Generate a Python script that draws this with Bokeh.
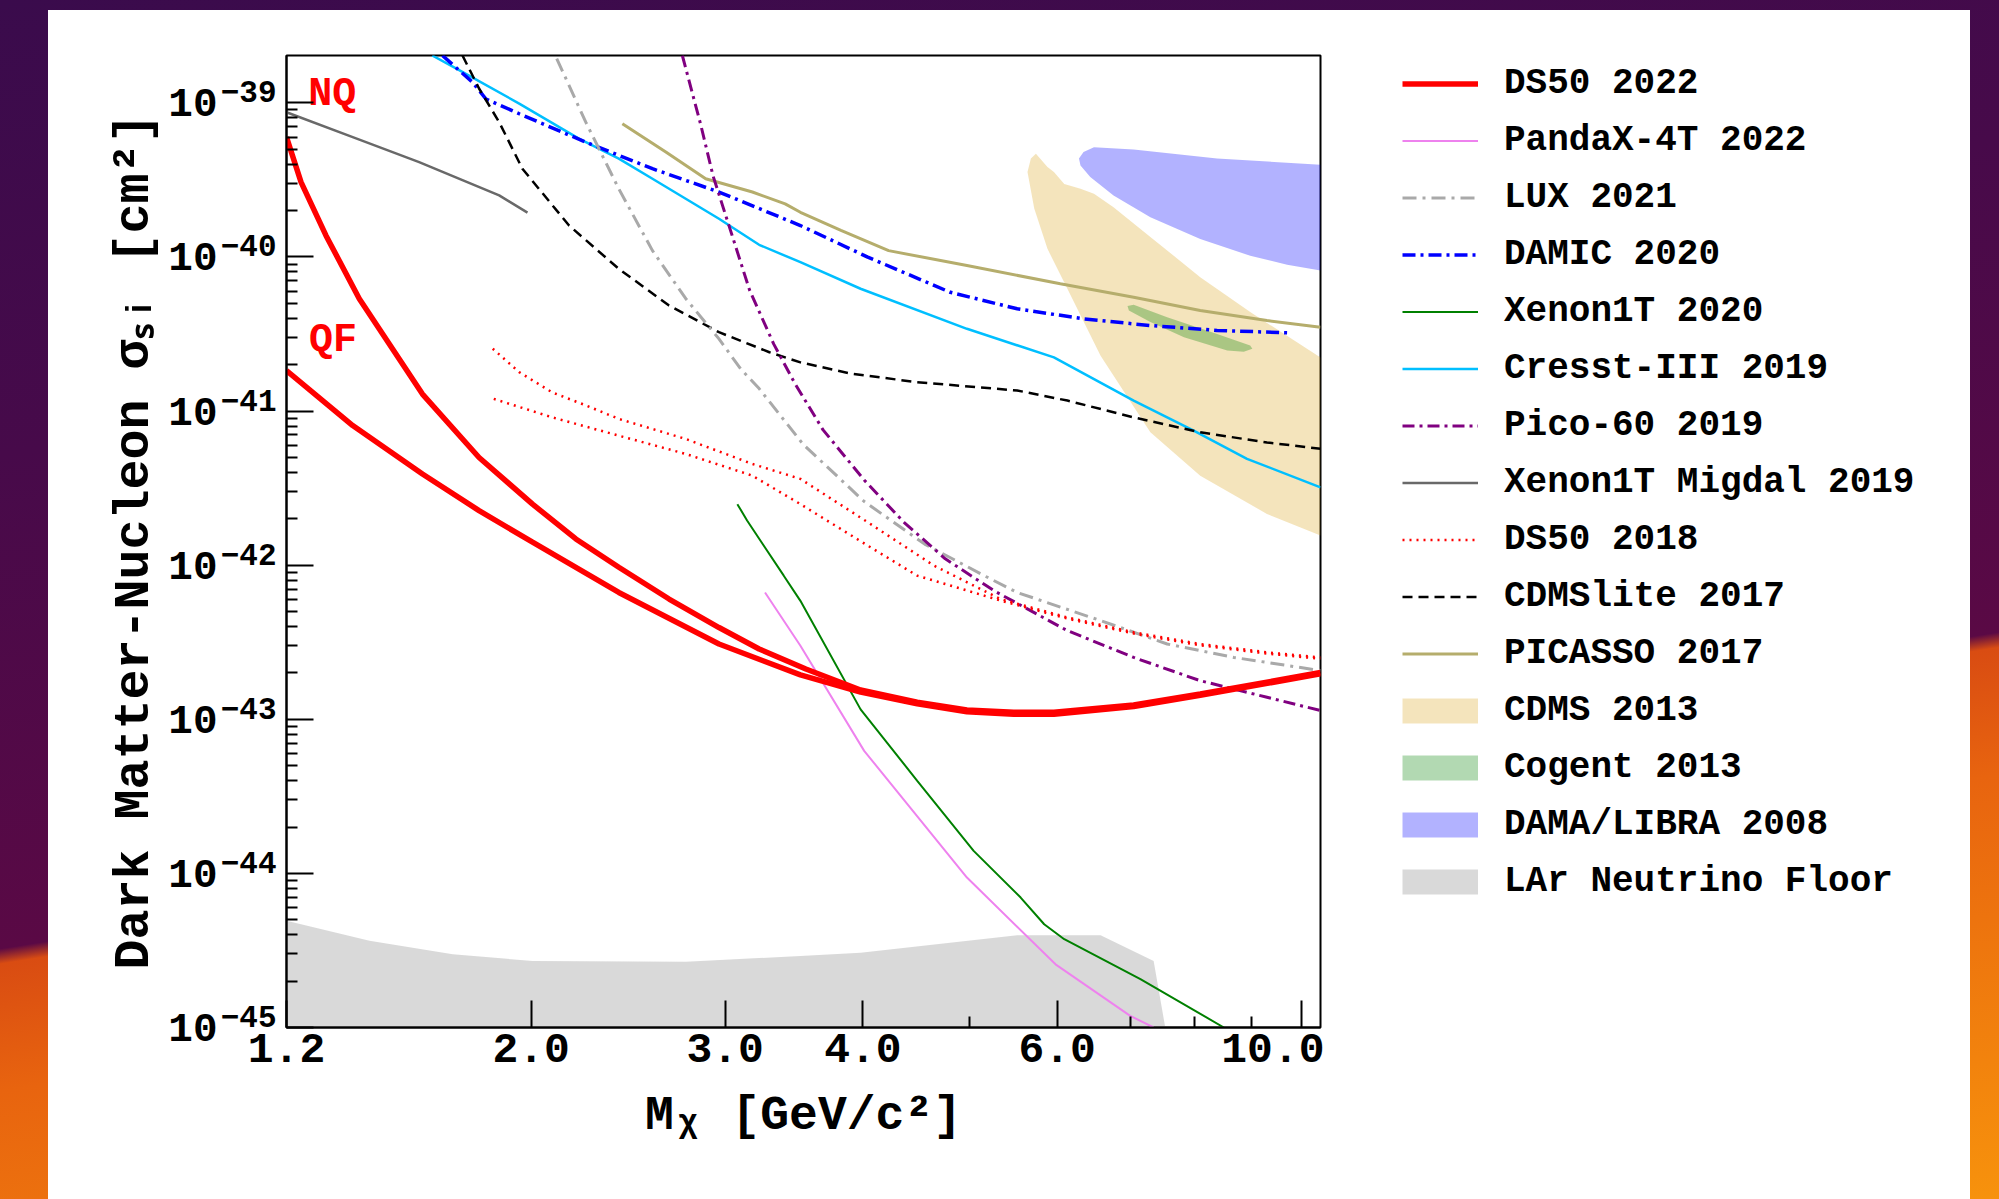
from bokeh.plotting import figure
from bokeh.models import (Range1d, FixedTicker, NumeralTickFormatter, CustomJSTickFormatter,
                          LogAxis, Legend, LegendItem)
from bokeh.layouts import row, column
from bokeh.core.properties import value
from bokeh.embed import file_html
from bokeh.resources import INLINE

FONT = "Liberation Mono"
NAN = float("nan")

# ------------------------------------------------------------------ data
# WIMP mass [GeV/c^2] and spin-independent cross section [cm^2]
ds50_2022_nq_mass = [1.2, 1.237, 1.303, 1.397, 1.594, 1.794, 2.006, 2.196, 2.402, 2.668, 2.961,
                     3.22, 3.55, 3.98, 4.48, 4.97, 5.48, 5.96, 7.04, 8.09, 10.4]
ds50_2022_nq_xsec = [6.0e-40, 3.06e-40, 1.38e-40, 5.36e-41, 1.29e-41, 5.0e-42, 2.49e-42, 1.48e-42,
                     9.7e-43, 6.03e-43, 3.94e-43, 2.86e-43, 2.12e-43, 1.55e-43, 1.29e-43, 1.15e-43,
                     1.11e-43, 1.11e-43, 1.24e-43, 1.46e-43, 2.01e-43]
ds50_2022_qf_mass = [1.2, 1.378, 1.594, 1.794, 2.006, 2.402, 2.961, 3.51, 3.98, 4.48, 4.97, 5.48,
                     5.96, 7.04, 8.09, 10.4]
ds50_2022_qf_xsec = [1.83e-41, 8.05e-42, 3.91e-42, 2.26e-42, 1.41e-42, 6.65e-43, 3.08e-43, 1.94e-43,
                     1.5e-43, 1.26e-43, 1.12e-43, 1.08e-43, 1.08e-43, 1.21e-43, 1.43e-43, 1.97e-43]

pandax_mass = [3.26, 3.51, 4.01, 4.97, 5.98, 6.99, 7.34]
pandax_xsec = [6.65e-43, 3.0e-43, 6.24e-44, 9.4e-45, 2.57e-45, 1.19e-45, 1.0e-45]

lux_mass = [2.11, 2.242, 2.402, 2.577, 2.763, 2.961, 3.10, 3.22, 3.53, 4.01, 4.55, 5.17, 5.52,
            6.57, 7.55, 8.68, 10.4]
lux_xsec = [1.94e-39, 7.5e-40, 2.77e-40, 1.1e-40, 5.36e-41, 2.94e-41, 1.87e-41, 1.4e-41, 6.09e-42,
            2.59e-42, 1.37e-42, 8.45e-43, 6.65e-43, 4.37e-43, 3.08e-43, 2.52e-43, 2.07e-43]

damic_mass = [1.662, 1.77, 1.82, 1.951, 2.242, 2.577, 2.961, 3.51, 4.04, 4.80, 5.52, 6.34, 7.29,
              8.38, 9.73]
damic_xsec = [2.03e-39, 1.36e-39, 1.06e-39, 8.5e-40, 5.56e-40, 3.74e-40, 2.64e-40, 1.6e-40,
              9.98e-41, 5.9e-41, 4.61e-41, 3.97e-41, 3.59e-41, 3.34e-41, 3.22e-41]

xenon1t_mass = [3.077, 3.14, 3.39, 3.51, 3.98, 4.48, 5.04, 5.56, 5.84, 6.09, 7.14, 8.5]
xenon1t_xsec = [2.49e-42, 1.95e-42, 8.55e-43, 5.87e-43, 1.16e-43, 3.99e-44, 1.4e-44, 6.97e-45,
                4.68e-45, 3.74e-45, 2.06e-45, 1.0e-45]

cresst_mass = [1.627, 1.721, 1.951, 2.21, 2.402, 2.577, 2.961, 3.22, 3.51, 3.98, 4.97, 5.96, 7.04,
               7.98, 8.92, 10.4]
cresst_xsec = [2.03e-39, 1.63e-39, 9.9e-40, 5.86e-40, 4.35e-40, 3.22e-40, 1.77e-40, 1.2e-40,
               9.25e-41, 6.22e-41, 3.42e-41, 2.23e-41, 1.17e-41, 7.46e-42, 4.9e-42, 3.2e-42]

pico_mass = [2.743, 2.85, 2.925, 3.025, 3.157, 3.32, 3.47, 3.68, 4.01, 4.36, 4.75, 5.26, 6.13,
             7.04, 8.09, 9.30, 10.4]
pico_xsec = [2.03e-39, 7.24e-40, 3.35e-40, 1.58e-40, 6.07e-41, 2.72e-41, 1.51e-41, 7.55e-42,
             3.57e-42, 1.89e-42, 1.1e-42, 6.82e-43, 3.76e-43, 2.52e-43, 1.78e-43, 1.39e-43, 1.14e-43]

migdal_mass = [1.2, 1.378, 1.583, 1.871, 1.985]
migdal_xsec = [8.7e-40, 6.0e-40, 4.13e-40, 2.51e-40, 1.94e-40]

ds50_2018_a_mass = [1.846, 1.951, 2.091, 2.242, 2.402, 2.763, 3.175, 3.51, 4.04, 4.64, 5.33, 6.13,
                    7.04, 8.09, 9.30, 10.4]
ds50_2018_a_xsec = [2.54e-41, 1.79e-41, 1.32e-41, 1.09e-41, 8.9e-42, 6.59e-42, 4.54e-42, 3.63e-42,
                    1.9e-42, 9.93e-43, 6.03e-43, 4.58e-43, 3.67e-43, 3.08e-43, 2.72e-43, 2.52e-43]
ds50_2018_b_mass = [1.85, 2.091, 2.402, 2.763, 3.175, 3.51, 4.04, 4.48, 5.33, 6.13, 7.04, 8.09,
                    9.30, 10.4]
ds50_2018_b_xsec = [1.2e-41, 9.1e-42, 6.93e-42, 5.27e-42, 3.81e-42, 2.49e-42, 1.34e-42, 8.55e-43,
                    5.9e-43, 4.5e-43, 3.6e-43, 3.02e-43, 2.67e-43, 2.47e-43]

cdmslite_mass = [1.733, 1.794, 1.871, 1.964, 2.165, 2.402, 2.668, 2.961, 3.29, 3.51, 3.90, 4.48,
                 5.52, 6.13, 7.04, 8.09, 9.30, 10.4]
cdmslite_xsec = [2.03e-39, 1.24e-39, 7.5e-40, 3.74e-40, 1.6e-40, 8.38e-41, 4.84e-41, 3.25e-41,
                 2.41e-41, 2.07e-41, 1.75e-41, 1.54e-41, 1.36e-41, 1.17e-41, 9.1e-42, 7.28e-42,
                 6.26e-42, 5.69e-42]

picasso_mass = [2.42, 2.65, 2.88, 3.175, 3.40, 3.51, 3.82, 4.22, 4.97, 6.04, 7.04, 8.09, 9.30, 10.4]
picasso_xsec = [7.33e-40, 4.8e-40, 3.22e-40, 2.64e-40, 2.21e-40, 1.95e-40, 1.49e-40, 1.1e-40,
                8.8e-41, 6.7e-41, 5.48e-41, 4.5e-41, 3.87e-41, 3.5e-41]

cdms2013_mass = [5.74, 5.88, 5.96, 6.09, 6.30, 6.48, 6.75, 7.29, 8.09, 8.98, 10.4, 10.4, 9.30, 8.09,
                 7.29, 6.57, 6.13, 5.88, 5.72, 5.64, 5.68]
cdms2013_xsec = [4.68e-40, 3.83e-40, 3.56e-40, 2.98e-40, 2.77e-40, 2.57e-40, 2.1e-40, 1.35e-40,
                 7.4e-41, 4.39e-41, 2.23e-41, 1.56e-42, 2.15e-42, 3.81e-42, 7.28e-42, 2.29e-41,
                 6.22e-41, 1.13e-40, 2.06e-40, 3.56e-40, 4.35e-40]

cogent_mass = [6.95, 7.04, 7.55, 8.38, 8.98, 9.02, 8.86, 8.56, 7.82, 7.29, 6.97]
cogent_xsec = [4.8e-41, 4.9e-41, 4.06e-41, 3.17e-41, 2.66e-41, 2.54e-41, 2.43e-41, 2.47e-41,
               3.01e-41, 3.78e-41, 4.5e-41]

dama_mass = [6.48, 7.04, 8.38, 10.4, 10.4, 9.70, 8.98, 8.09, 7.29, 6.75, 6.43, 6.30, 6.28, 6.34]
dama_xsec = [5.16e-40, 4.99e-40, 4.35e-40, 3.97e-40, 8.17e-41, 8.89e-41, 1.02e-40, 1.31e-40,
             1.81e-40, 2.51e-40, 3.3e-40, 3.93e-40, 4.35e-40, 4.8e-40]

nufloor_mass = [1.2, 1.427, 1.698, 2.006, 2.763, 3.51, 3.98, 5.52, 6.57, 7.34, 7.52, 1.2]
nufloor_xsec = [4.92e-45, 3.65e-45, 2.99e-45, 2.7e-45, 2.67e-45, 2.91e-45, 3.06e-45, 3.97e-45,
                3.97e-45, 2.7e-45, 1.0e-45, 1.0e-45]

x_major_ticks = [1.2, 2.0, 3.0, 4.0, 6.0, 10.0]
x_minor_ticks = [5.0, 7.0, 8.0, 9.0]
y_exponents = [-45, -44, -43, -42, -41, -40, -39]

legend_labels = ["DS50 2022", "PandaX-4T 2022", "LUX 2021", "DAMIC 2020", "Xenon1T 2020",
                 "Cresst-III 2019", "Pico-60 2019", "Xenon1T Migdal 2019", "DS50 2018",
                 "CDMSlite 2017", "PICASSO 2017", "CDMS 2013", "Cogent 2013", "DAMA/LIBRA 2008",
                 "LAr Neutrino Floor"]

x_title = "M\u1d6a [GeV/c\u00b2]"
y_title = "Dark Matter-Nucleon \u03c3\u209b\u1d62 [cm\u00b2]"

# ------------------------------------------------------------------ styles of each series
LINE_STYLES = {
    "DS50 2022":           dict(line_color="red", line_width=5.5),
    "PandaX-4T 2022":      dict(line_color="violet", line_width=2),
    "LUX 2021":            dict(line_color="darkgray", line_width=3, line_dash="14 6 3 6"),
    "DAMIC 2020":          dict(line_color="blue", line_width=3.5, line_dash="13 5 3 5"),
    "Xenon1T 2020":        dict(line_color="green", line_width=2),
    "Cresst-III 2019":     dict(line_color="deepskyblue", line_width=2.5),
    "Pico-60 2019":        dict(line_color="purple", line_width=3, line_dash="12 5 3 5"),
    "Xenon1T Migdal 2019": dict(line_color="dimgray", line_width=2.5),
    "DS50 2018":           dict(line_color="red", line_width=2.5, line_dash="2 5"),
    "CDMSlite 2017":       dict(line_color="black", line_width=2.5, line_dash="10 6"),
    "PICASSO 2017":        dict(line_color="#b5ad6c", line_width=3),
}
FILL_STYLES = {
    "CDMS 2013":          "goldenrod",
    "Cogent 2013":        "green",
    "DAMA/LIBRA 2008":    "blue",
    "LAr Neutrino Floor": "gray",
}
FILL_ALPHA = 0.3

# ------------------------------------------------------------------ main figure
FRAME_W, FRAME_H = 1034, 972
BL, BR, BT, BB = 238, 4, 45, 172
W, H = BL + FRAME_W + BR, BT + FRAME_H + BB

p = figure(width=W, height=H, x_axis_type="log", y_axis_type="log",
           x_range=Range1d(1.2, 10.4), y_range=Range1d(1e-45, 2.03e-39),
           output_backend="svg", toolbar_location=None,
           min_border_left=BL, min_border_right=BR, min_border_top=BT, min_border_bottom=BB)
p.background_fill_color = "white"
p.border_fill_color = "white"
p.outline_line_color = "black"
p.outline_line_width = 2
p.grid.visible = False

for ax in (p.xaxis[0], p.yaxis[0]):
    ax.axis_line_width = 2
    ax.axis_line_color = "black"
    ax.major_tick_line_width = 2
    ax.minor_tick_line_width = 2
    ax.major_tick_in = 27
    ax.major_tick_out = 0
    ax.minor_tick_in = 11
    ax.minor_tick_out = 0

xa = p.xaxis[0]
xa.ticker = FixedTicker(ticks=x_major_ticks, minor_ticks=x_minor_ticks)
xa.formatter = NumeralTickFormatter(format="0.0")
xa.major_label_text_font = FONT
xa.major_label_text_font_style = "bold"
xa.major_label_text_font_size = "43px"
xa.major_label_text_color = "black"
xa.major_label_standoff = 6
xa.axis_label = x_title
xa.axis_label_text_font = FONT
xa.axis_label_text_font_style = "bold"
xa.axis_label_text_font_size = "48px"
xa.axis_label_text_color = "black"
xa.axis_label_standoff = 24

# main y axis: line + ticks only
ya = p.yaxis[0]
ya.ticker = FixedTicker(ticks=[10.0 ** k for k in y_exponents],
                        minor_ticks=[m * 10.0 ** k for k in y_exponents[:-1] for m in range(2, 10)])
ya.formatter = CustomJSTickFormatter(code="return ''")
ya.major_label_standoff = 0

# exponent labels (raised a little above each decade tick)
EXP_RAISE = 11.0 / 154.0
exp_axis = LogAxis(ticker=FixedTicker(ticks=[10.0 ** (k + EXP_RAISE) for k in y_exponents],
                                      minor_ticks=[]),
                   formatter=CustomJSTickFormatter(
                       code="return '\u2212' + Math.round(-Math.log10(tick)).toString()"),
                   axis_line_color=None, major_tick_line_color=None, minor_tick_line_color=None,
                   major_tick_in=0, major_tick_out=0, minor_tick_in=0, minor_tick_out=0,
                   major_label_standoff=10, major_label_text_font=FONT,
                   major_label_text_font_style="bold", major_label_text_font_size="31px",
                   major_label_text_color="black")
p.add_layout(exp_axis, "left")

# mantissa labels "10" and the y title
ten_axis = LogAxis(ticker=FixedTicker(ticks=[10.0 ** k for k in y_exponents], minor_ticks=[]),
                   formatter=CustomJSTickFormatter(code="return '10'"),
                   axis_line_color=None, major_tick_line_color=None, minor_tick_line_color=None,
                   major_tick_in=0, major_tick_out=0, minor_tick_in=0, minor_tick_out=0,
                   major_label_standoff=0, major_label_text_font=FONT,
                   major_label_text_font_style="bold", major_label_text_font_size="41px",
                   major_label_text_color="black",
                   axis_label=y_title, axis_label_text_font=FONT,
                   axis_label_text_font_style="bold", axis_label_text_font_size="50px",
                   axis_label_text_color="black", axis_label_standoff=2)
p.add_layout(ten_axis, "left")

# ------------------------------------------------------------------ regions (under the lines)
fill_data = {"CDMS 2013": (cdms2013_mass, cdms2013_xsec),
             "DAMA/LIBRA 2008": (dama_mass, dama_xsec),
             "LAr Neutrino Floor": (nufloor_mass, nufloor_xsec),
             "Cogent 2013": (cogent_mass, cogent_xsec)}
for name, (xs, ys) in fill_data.items():
    p.patch(xs, ys, fill_color=FILL_STYLES[name], fill_alpha=FILL_ALPHA, line_color=None)

# ------------------------------------------------------------------ limit curves
line_data = [("PICASSO 2017", picasso_mass, picasso_xsec),
             ("Xenon1T Migdal 2019", migdal_mass, migdal_xsec),
             ("Cresst-III 2019", cresst_mass, cresst_xsec),
             ("DAMIC 2020", damic_mass, damic_xsec),
             ("CDMSlite 2017", cdmslite_mass, cdmslite_xsec),
             ("LUX 2021", lux_mass, lux_xsec),
             ("Pico-60 2019", pico_mass, pico_xsec),
             ("DS50 2018", ds50_2018_a_mass, ds50_2018_a_xsec),
             ("DS50 2018", ds50_2018_b_mass, ds50_2018_b_xsec),
             ("Xenon1T 2020", xenon1t_mass, xenon1t_xsec),
             ("PandaX-4T 2022", pandax_mass, pandax_xsec),
             ("DS50 2022", ds50_2022_qf_mass, ds50_2022_qf_xsec),
             ("DS50 2022", ds50_2022_nq_mass, ds50_2022_nq_xsec)]
for name, xs, ys in line_data:
    p.line(xs, ys, **LINE_STYLES[name])

# curve tags
tag_text = ["NQ", "QF"]
tag_mass = [1.256, 1.258]
tag_xsec = [1.14e-39, 2.86e-41]
p.text(x=tag_mass, y=tag_xsec, text=tag_text, text_color="red", text_font=value(FONT),
       text_font_style="bold", text_font_size="40px", text_align="left", text_baseline="alphabetic")

# ------------------------------------------------------------------ legend panel (own canvas)
LW = 1922 - W
pl = figure(width=LW, height=H, x_range=Range1d(0, 1), y_range=Range1d(0, 1),
            x_axis_type=None, y_axis_type=None, output_backend="svg", toolbar_location=None,
            min_border_left=0, min_border_right=0, min_border_top=BT, min_border_bottom=BB,
            outline_line_color=None)
pl.background_fill_color = "white"
pl.border_fill_color = "white"
pl.grid.visible = False

ROW = 57
SWATCH_H = 25
items = []
for lab in legend_labels:
    if lab in LINE_STYLES:
        r = pl.line([NAN], [NAN], **LINE_STYLES[lab])
    else:
        r = pl.line([NAN], [NAN], line_color=FILL_STYLES[lab], line_alpha=FILL_ALPHA,
                    line_width=SWATCH_H, line_cap="butt")
    items.append(LegendItem(label=lab, renderers=[r]))

legend = Legend(items=items, location=(78, FRAME_H - ROW * len(items)),
                label_text_font=FONT, label_text_font_style="bold", label_text_font_size="36px",
                label_text_color="black", glyph_width=76, glyph_height=ROW, label_height=ROW,
                label_standoff=26, spacing=0, padding=0, margin=0,
                border_line_color=None, background_fill_alpha=0)
pl.add_layout(legend)

sheet = row(p, pl, margin=(10, 29, 0, 48), styles={"background": "white"})
page = column(sheet, styles={"background": "linear-gradient(171deg, #3a0b4c 0%, #470a4a 30%, "
                                           "#5a0945 62.6%, #d94c12 63.6%, #e8640f 72%, "
                                           "#f7920c 100%)"})

open("out.html", "w").write(file_html(page, INLINE))
